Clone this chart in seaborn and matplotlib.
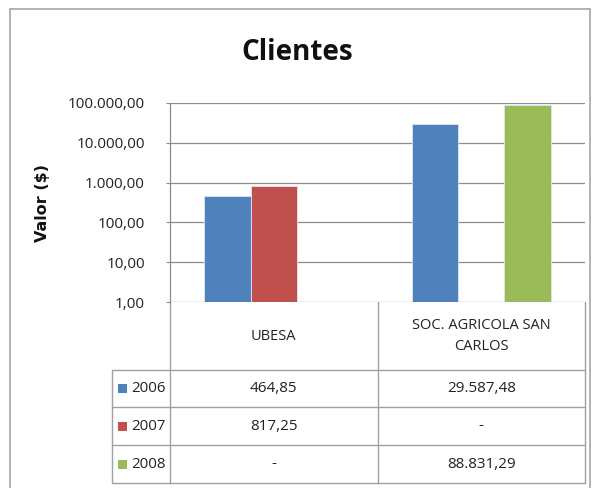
import matplotlib
matplotlib.use("Agg")
import matplotlib.pyplot as plt
import matplotlib.transforms as mtransforms
from matplotlib.patches import Rectangle
import numpy as np
import pandas as pd
import seaborn as sns

# ---- data ----
categories = ["UBESA", "SOC. AGRICOLA SAN\nCARLOS"]
years = ["2006", "2007", "2008"]
values_2006 = [464.85, 29587.48]
values_2007 = [817.25, np.nan]
values_2008 = [np.nan, 88831.29]
table_2006 = ["464,85", "29.587,48"]
table_2007 = ["817,25", "-"]
table_2008 = ["-", "88.831,29"]
ytick_values = [1, 10, 100, 1000, 10000, 100000]
ytick_labels = ["1,00", "10,00", "100,00", "1.000,00", "10.000,00", "100.000,00"]
colors = ["#4F81BD", "#C0504D", "#9BBB59"]
title = "Clientes"
ylabel = "Valor ($)"

rows = []
for yr, vals in zip(years, [values_2006, values_2007, values_2008]):
    for c, v in zip(categories, vals):
        rows.append({"cat": c, "year": yr, "value": v})
df = pd.DataFrame(rows)

sns.set_theme(style="white")
narrow = ["Open Sans", "DejaVu Sans"]
plt.rcParams["font.family"] = narrow

W, H = 592, 488
fig = plt.figure(figsize=(W / 100, H / 100), dpi=100)
fig.patch.set_facecolor("white")

# outer frame
fig.add_artist(Rectangle((10 / W, -0.01), (580) / W, (488 - 9) / H + 0.01,
                         transform=fig.transFigure, fill=False,
                         edgecolor="#A6A6A6", linewidth=1.2))

ax_l, ax_r, ax_t, ax_b = 170, 585, 103, 302
ax = fig.add_axes([ax_l / W, (H - ax_b) / H, (ax_r - ax_l) / W, (ax_b - ax_t) / H])

sns.barplot(data=df, x="cat", y="value", hue="year", order=categories,
            hue_order=years, palette=colors, width=0.67, dodge=True,
            ax=ax, legend=False, edgecolor="#dde6f2", linewidth=0.6,
            saturation=1)
ax.set_yscale("log")
ax.set_ylim(1, 100000)
ax.set_xlim(-0.5, 1.5)
ax.set_yticks(ytick_values)
ax.set_yticklabels(ytick_labels, fontsize=11, color="#222222")
ax.yaxis.set_minor_locator(matplotlib.ticker.NullLocator())
ax.tick_params(axis="y", length=3, width=0.8, color="#8C8C8C", pad=15, left=True)
ax.set_xticks([])
ax.set_xlabel("")
ax.set_ylabel("")
ax.grid(axis="y", color="#8C8C8C", linewidth=0.9)
ax.set_axisbelow(True)
for s in ["top", "right", "bottom"]:
    ax.spines[s].set_visible(False)
ax.spines["left"].set_color("#8C8C8C")
ax.spines["left"].set_linewidth(0.9)
ax.set_facecolor("white")

fig.text(297 / W, (H - 52) / H, title, ha="center", va="center",
         fontsize=20, fontweight="bold", color="#111111", family=narrow)
fig.text(43 / W, (H - 203) / H, ylabel, rotation=90, ha="center", va="center",
         fontsize=11.5, fontweight="bold", color="#111111", family=["DejaVu Sans"])

# ---- data table ----
ph = ax_b - ax_t
def yf(py):
    return -(py - ax_b) / ph
def xf(px):
    return (px - ax_l) / (ax_r - ax_l)

lc = "#A0A0A0"
lw = 1.0
tfs = 11
trans_blend = mtransforms.blended_transform_factory(ax.transData, ax.transAxes)
# header row
y_head_b = yf(370)
for xd in [-0.5, 0.5, 1.5]:
    ax.plot([xd, xd], [0, y_head_b], transform=trans_blend, color=lc, lw=lw, clip_on=False)
for i, c in enumerate(categories):
    ax.text(i, y_head_b / 2, c, transform=trans_blend, ha="center", va="center",
            fontsize=10.5, color="#222222", linespacing=1.6, clip_on=False)
# data rows
row_edges = [370, 407, 445, 483]
x_lab_l = xf(112)
for py in row_edges:
    ax.plot([x_lab_l, 1.0], [yf(py), yf(py)], transform=ax.transAxes, color=lc, lw=lw, clip_on=False)
for xa in [x_lab_l, 0.0, 1.0]:
    ax.plot([xa, xa], [yf(370), yf(483)], transform=ax.transAxes, color=lc, lw=lw, clip_on=False)
ax.plot([0.5, 0.5], [yf(370), yf(483)], transform=trans_blend, color=lc, lw=lw, clip_on=False)

for r, (yr, tv, col) in enumerate(zip(years, [table_2006, table_2007, table_2008], colors)):
    yc = (yf(row_edges[r]) + yf(row_edges[r + 1])) / 2
    sq = 9 / ph
    ax.add_patch(Rectangle((xf(118), yc - sq / 2), 9 / (ax_r - ax_l), sq,
                           transform=ax.transAxes, facecolor=col, edgecolor="none",
                           clip_on=False))
    ax.text(xf(131), yc, yr, transform=ax.transAxes, ha="left", va="center",
            fontsize=10.8, color="#222222", clip_on=False)
    for i, t in enumerate(tv):
        ax.text(i, yc, t, transform=trans_blend, ha="center", va="center",
                fontsize=tfs, color="#222222", clip_on=False)

fig.savefig("out.png", dpi=100)
